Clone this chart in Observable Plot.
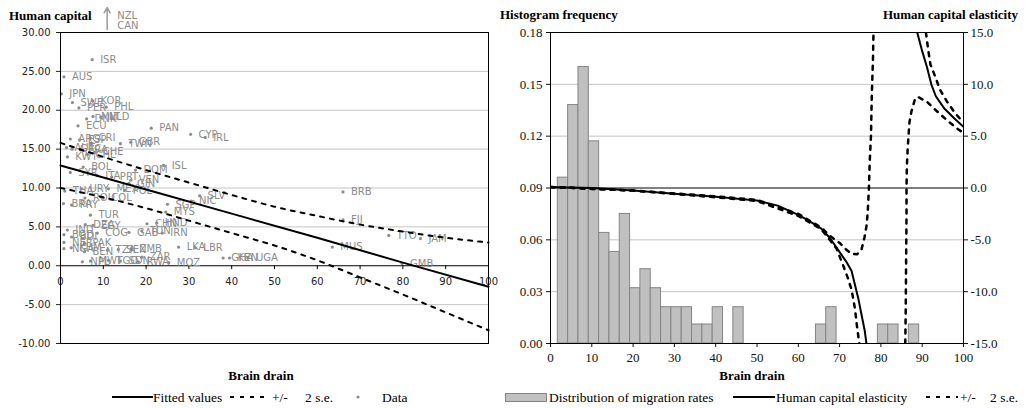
<!DOCTYPE html>
<html><head><meta charset="utf-8">
<script src="https://cdn.jsdelivr.net/npm/d3@7"></script>
<script src="https://cdn.jsdelivr.net/npm/@observablehq/plot@0.6"></script>
<style>
body{margin:0;background:#fff;}
#root{position:relative;width:1027px;height:408px;overflow:hidden;font-family:"Liberation Serif","Times New Roman",serif;background:#fff;}
.abs{position:absolute;white-space:pre;line-height:1;}
.ttl{font-weight:bold;font-size:13px;color:#000;}
.leg{font-size:13.5px;color:#000;}
</style></head><body><div id="root"></div>
<script>
// ---------- LEFT PANEL DATA ----------
const countryCodes = ["ISR","AUS","JPN","SWE","PER","KOR","PHL","DNK","MLT","NLD","ECU","PAN","CYP","IRL",
  "ARG","ESP","CRI","TWN","GBR","AUT","GRC","FRA","CHE","KWT","CHL","BOL","DOM","ISL","SYR","ITA","PRT",
  "VEN","GIN","THA","URY","MEX","POL","BRA","PRY","ROU","COL","SLV","NIC","SGP","MYS","TUR","IND","DZA",
  "EGY","COG","GAB","TUN","IRN","CHN","HND","BGD","BDI","NER","PAK","NGA","KHM","BEN","TZA","SEN","ZMB",
  "NPL","MWI","TGO","SDN","RWA","ZAR","MOZ","LKA","LBR","GHA","KEN","UGA","BRB","FJI","TTO","JAM","MUS","GMB"];
const brainDrain = [7.4,0.8,0.2,2.8,4.3,7.5,10.7,6.1,7.6,9.4,4.1,21.2,30.4,33.8,
  2.3,4.5,7.0,14.0,16.4,1.4,2.7,4.7,8.0,1.6,6.3,5.3,17.5,24.1,2.3,8.6,12.0,
  16.4,16.0,1.0,4.9,11.2,15.0,0.7,2.6,5.7,10.0,32.5,30.5,25.0,24.6,7.0,1.6,5.8,
  7.6,8.6,16.0,19.0,23.8,20.2,22.5,0.8,2.6,0.8,5.6,0.8,2.5,5.6,11.0,13.5,16.6,
  5.1,7.0,11.2,14.0,18.2,19.0,25.3,27.6,31.5,38.0,39.5,43.8,66.0,66.0,76.7,84.1,63.5,79.8];
const humanCapital = [26.5,24.3,22.1,21.0,20.3,21.2,20.4,18.9,19.2,19.1,18.0,17.7,16.9,16.5,
  16.3,16.2,16.4,15.7,15.9,15.2,15.0,14.9,14.6,14.0,14.3,12.7,12.3,12.9,12.0,11.6,11.4,
  11.0,10.6,9.6,9.9,9.9,9.7,8.0,7.8,8.7,8.7,9.0,8.3,7.9,6.9,6.5,4.6,5.3,
  5.2,4.2,4.3,4.5,4.2,5.4,5.5,4.0,3.7,3.0,2.9,2.2,2.3,1.8,2.0,2.1,2.2,
  0.5,0.6,0.7,0.6,0.5,1.1,0.4,2.4,2.3,1.0,1.0,1.0,9.5,5.9,3.9,3.5,2.4,0.3];
const offScale = ["NZL","CAN"];

const fitX = [0,20,40,60,80,100];
const fitY = [12.9,9.8,6.7,3.6,0.4,-2.7];
const bandX = [0,10,20,30,40,50,60,70,80,90,100];
const bandUpper = [15.8,14.0,12.3,10.7,9.1,7.6,6.4,5.3,4.4,3.6,3.0];
const bandLower = [10.0,8.8,7.4,5.8,4.2,2.6,0.7,-1.5,-3.7,-6.0,-8.3];

const leftYTicks = [-10,-5,0,5,10,15,20,25,30];
const xTicks = [0,10,20,30,40,50,60,70,80,90,100];

// ---------- RIGHT PANEL DATA ----------
const binStart = [1.77,4.27,6.77,9.27,11.77,14.27,16.77,19.27,21.77,24.27,26.77,29.27,31.77,34.27,36.77,39.27,44.27,64.27,66.77,79.27,81.77,86.77];
const binFreq  = [0.096,0.138,0.160,0.117,0.064,0.053,0.075,0.032,0.043,0.032,0.021,0.021,0.021,0.011,0.011,0.021,0.021,0.011,0.021,0.011,0.011,0.011];
const binWidth = 2.5;

const elasX1 = [0,10,20,30,40,50,55,60,62.7,65.5,67.6,69.6,71.6,72.9,73.7,74.5,75.3,76.1,76.5];
const elasY1 = [0.1,0.0,-0.25,-0.55,-0.85,-1.2,-1.7,-2.6,-3.2,-3.9,-4.8,-5.95,-7.1,-8.0,-9.3,-10.6,-12.2,-13.8,-15.0];
const elasX2 = [88.8,90.0,91.2,92.2,93.3,95.3,97.8,100];
const elasY2 = [15.0,13.2,11.6,10.0,8.85,7.7,6.7,5.9];

const upX1 = [0,20,40,50,60,65.5,67.6,70,71.5,72.9,74.2,75.3,76.0,76.5,76.8,77.1,77.3,77.6,77.8,78.1,78.2];
const upY1 = [0.1,-0.25,-0.8,-1.15,-2.5,-3.8,-4.6,-5.3,-5.9,-6.35,-6.4,-5.95,-4.8,-3.7,-2.4,0,2.6,5.1,9.0,12.7,15.0];
const upX2 = [90.9,91.5,92.0,93.1,94.3,95.9,97.8,100];
const upY2 = [15.0,13.2,11.9,10.8,9.5,8.4,7.3,6.3];
const loX1 = [0,20,40,50,60,65.5,67.6,69.2,70.8,72.0,72.9,73.7,74.2,74.7,74.8];
const loY1 = [0.1,-0.25,-0.9,-1.25,-2.7,-3.95,-5.0,-5.8,-7.4,-8.7,-9.8,-11.6,-13.3,-14.8,-15.0];
const loX2 = [85.9,86.0,86.1,86.2,86.2,86.3,86.5,86.7,86.9,87.4,88.2,88.9,91.2,93.3,96.1,98.6,100];
const loY2 = [-15,-12.2,-7.4,-2.6,0,2.25,3.9,5.1,6.3,7.4,8.5,8.8,8.3,7.5,6.5,5.7,5.3];

const freqTicks = [0,0.03,0.06,0.09,0.12,0.15,0.18];

// ---------- BUILD ----------
const pts = countryCodes.map((c,i)=>({code:c, m:brainDrain[i], h:humanCapital[i]}));
const zipXY = (xs,ys)=>xs.map((x,i)=>({x, y:ys[i]}));
const fit = zipXY(fitX, fitY);
const up = zipXY(bandX, bandUpper);
const lo = zipXY(bandX, bandLower);

const left = Plot.plot({
  width: 500, height: 345,
  marginLeft: 60, marginRight: 12, marginTop: 32, marginBottom: 2,
  x: {domain:[0,100], axis: null},
  y: {domain:[-10,30], label: null},
  style: {fontFamily:"DejaVu Sans", fontSize:"10px", background:"transparent", overflow:"visible", color:"#222"},
  marks: [
    Plot.gridY(leftYTicks.filter(t=>t!==0 && t!==30 && t!==-10), {stroke:"#c4c4c4", strokeOpacity:1}),
    Plot.ruleY([0], {stroke:"black", strokeWidth:1}),
    Plot.ruleX(xTicks, {x:d=>d, y1:0, y2:-0.5, stroke:"black"}),
    Plot.text(xTicks, {x:d=>d, y:0, dy:16, text:d=>String(d), fill:"#222"}),
    Plot.axisY(leftYTicks, {tickFormat:d=>d.toFixed(2), tickSize:4, tickPadding:6, label:null}),
    Plot.dot(pts, {x:"m", y:"h", r:1.6, fill:"#8c8c8c", stroke:null}),
    Plot.text(pts, {x:"m", y:"h", text:"code", dx:8, textAnchor:"start", fill:"#8c8c8c"}),
    Plot.line(fit, {x:"x", y:"y", stroke:"black", strokeWidth:2}),
    Plot.line(up, {x:"x", y:"y", stroke:"black", strokeWidth:2, strokeDasharray:"4,6", curve:"monotone-x"}),
    Plot.line(lo, {x:"x", y:"y", stroke:"black", strokeWidth:2, strokeDasharray:"4,6", curve:"monotone-x"}),
    Plot.arrow([10.9], {x1:d=>d, x2:d=>d, y1:30.4, y2:33.2, stroke:"#9a9a9a", strokeWidth:1.5, headLength:6}),
    Plot.text([offScale[0]], {x:()=>10.9, frameAnchor:"top", lineAnchor:"middle", dy:-17, dx:10, textAnchor:"start", text:d=>d, fill:"#8c8c8c"}),
    Plot.text([offScale[1]], {x:()=>10.9, frameAnchor:"top", lineAnchor:"middle", dy:-7, dx:10, textAnchor:"start", text:d=>d, fill:"#8c8c8c"}),
    Plot.frame({stroke:"black"})
  ]
});

const E = e => 0.09 + e*0.006;
const mk = (xs,ys)=>xs.map((x,i)=>({x, f:E(ys[i])}));
const bins = binStart.map((s,i)=>({x1:s, x2:s+binWidth, f:binFreq[i]}));

const right = Plot.plot({
  width: 527, height: 365,
  marginLeft: 50, marginRight: 64, marginTop: 32, marginBottom: 22,
  x: {domain:[0,100]},
  y: {domain:[0,0.18], label:null},
  style: {fontFamily:"'Liberation Serif','Times New Roman',serif", fontSize:"13px", background:"transparent", overflow:"visible", color:"#111"},
  marks: [
    Plot.gridY([0.03,0.06,0.12,0.15], {stroke:"#c4c4c4", strokeOpacity:1}),
    Plot.rectY(bins, {x1:"x1", x2:"x2", y:"f", fill:"#c0c0c0", stroke:"#848484", strokeWidth:1}),
    Plot.ruleY([0.09], {stroke:"black"}),
    Plot.axisY(freqTicks, {anchor:"left", tickFormat:d=>d.toFixed(2), tickSize:4, tickPadding:4, label:null}),
    Plot.axisY(freqTicks, {anchor:"right", tickFormat:d=>((d-0.09)/0.006).toFixed(1), tickSize:4, tickPadding:3, label:null}),
    Plot.axisX(xTicks, {tickSize:4, tickPadding:5, label:null}),
    Plot.line(mk(elasX1,elasY1), {x:"x", y:"f", stroke:"black", strokeWidth:2, clip:true}),
    Plot.line(mk(elasX2,elasY2), {x:"x", y:"f", stroke:"black", strokeWidth:2, clip:true}),
    Plot.line(mk(upX1,upY1), {x:"x", y:"f", stroke:"black", strokeWidth:2.5, strokeDasharray:"4,6", clip:true}),
    Plot.line(mk(upX2,upY2), {x:"x", y:"f", stroke:"black", strokeWidth:2.5, strokeDasharray:"4,6", clip:true}),
    Plot.line(mk(loX1,loY1), {x:"x", y:"f", stroke:"black", strokeWidth:2.5, strokeDasharray:"4,6", clip:true}),
    Plot.line(mk(loX2,loY2), {x:"x", y:"f", stroke:"black", strokeWidth:2.5, strokeDasharray:"4,6", clip:true}),
    Plot.frame({stroke:"black"})
  ]
});

const root = document.getElementById("root");
left.style.position = "absolute"; left.style.left = "0px"; left.style.top = "0px";
right.style.position = "absolute"; right.style.left = "500px"; right.style.top = "0px";
root.appendChild(left); root.appendChild(right);

function txt(s, cls, css){ const d=document.createElement("div"); d.className="abs "+cls; d.textContent=s; Object.assign(d.style, css); root.appendChild(d); return d; }
function svgEl(css, w, h, inner){ const d=document.createElement("div"); d.className="abs"; Object.assign(d.style, css, {width:w+"px", height:h+"px"}); d.innerHTML=`<svg width="${w}" height="${h}" style="display:block;overflow:visible">${inner}</svg>`; root.appendChild(d); }

txt("Human capital","ttl",{left:"9px", top:"8.5px"});
txt("Histogram frequency","ttl",{left:"500px", top:"7.5px"});
txt("Human capital elasticity","ttl",{right:"9px", top:"7.5px"});
txt("Brain drain","ttl",{left:"261px", top:"368.5px", transform:"translateX(-50%)"});
txt("Brain drain","ttl",{left:"752px", top:"368.5px", transform:"translateX(-50%)"});

// left legend
svgEl({left:"112px", top:"393px"}, 41, 8, `<line x1="0" y1="4" x2="41" y2="4" stroke="black" stroke-width="2"/>`);
txt("Fitted values","leg",{left:"153px", top:"390.5px"});
svgEl({left:"230px", top:"393px"}, 40, 8, `<line x1="0" y1="4" x2="36" y2="4" stroke="black" stroke-width="2" stroke-dasharray="4,6"/>`);
txt("+/-","leg",{left:"272px", top:"390.5px"});
txt("2 s.e.","leg",{left:"305px", top:"390.5px"});
svgEl({left:"354px", top:"393px"}, 8, 8, `<circle cx="4" cy="4" r="1.6" fill="#8c8c8c"/>`);
txt("Data","leg",{left:"382px", top:"390.5px"});

// right legend
svgEl({left:"505px", top:"393px"}, 42, 9, `<rect x="0.5" y="0.5" width="41" height="8" fill="#c0c0c0" stroke="#848484"/>`);
txt("Distribution of migration rates","leg",{left:"549px", top:"390.5px"});
svgEl({left:"733px", top:"393px"}, 42, 8, `<line x1="0" y1="4" x2="42" y2="4" stroke="black" stroke-width="2"/>`);
txt("Human capital elasticity","leg",{left:"776px", top:"390.5px"});
svgEl({left:"926px", top:"393px"}, 32, 8, `<line x1="0" y1="4" x2="32" y2="4" stroke="black" stroke-width="2" stroke-dasharray="4,6"/>`);
txt("+/-","leg",{left:"960px", top:"390.5px"});
txt("2 s.e.","leg",{left:"990px", top:"390.5px"});
</script></body></html>
